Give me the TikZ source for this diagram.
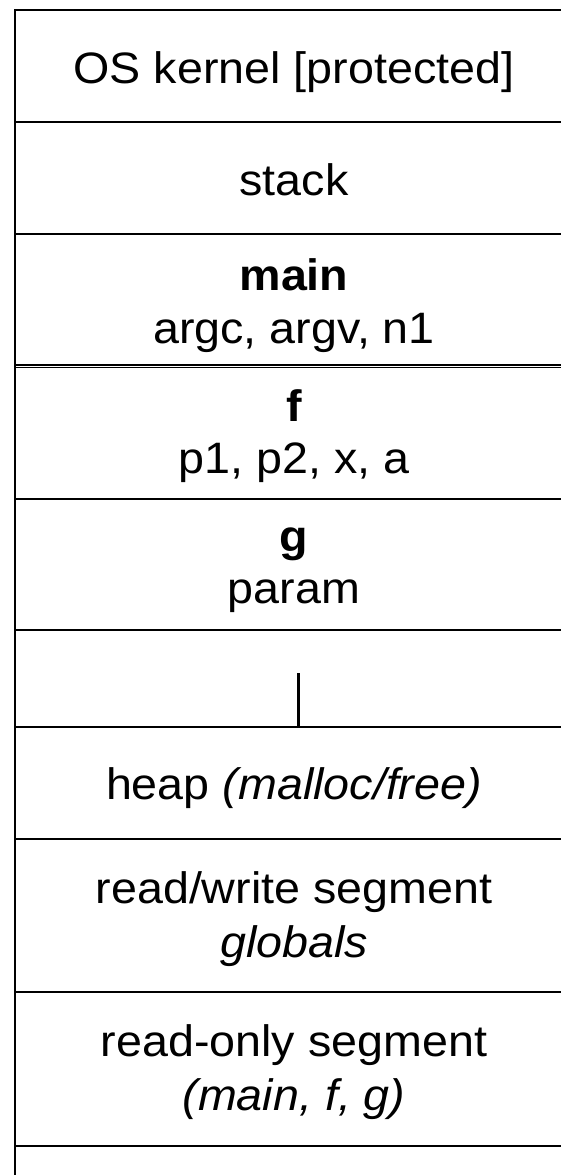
\documentclass[tikz,border=0pt]{standalone}
\usepackage{graphicx}
\usepackage{fontspec}
\setmainfont{Liberation Sans}
\newcommand\widetext[1]{\scalebox{1.06}[1]{#1}}
\begin{document}
\begin{tikzpicture}[x=1pt,y=-1pt,
  rule/.style={line width=1.9pt,black},
  lbl/.style={anchor=base,inner sep=0pt,font=\fontsize{44}{52}\selectfont},
  blbl/.style={lbl,font=\fontsize{44}{52}\selectfont\bfseries}]
\useasboundingbox[fill=white] (0,0) rectangle (561,1175);
% frame lines
\draw[rule] (15,10) -- (561,10);
\draw[rule] (15,9) -- (15,1175);
\foreach \yy in {122,234,499,630,727,839,992,1146}
  \draw[rule] (15,\yy) -- (561,\yy);
\draw[line width=1.4pt,black] (15,364.9) -- (561,364.9);
\draw[line width=1.4pt,black] (15,367.4) -- (561,367.4);
% labels
\def\cx{294}
\node[lbl]  (kernel) at (\cx,83)   {\widetext{OS kernel [protected]}};
\node[lbl]  (stack)  at (\cx,195)  {\widetext{stack}};
\node[blbl] (mainT)  at (\cx,290)  {\widetext{main}};
\node[lbl]  (mainV)  at (\cx,343)  {\widetext{argc, argv, n1}};
\node[blbl] (fT)     at (\cx,421)  {\widetext{f}};
\node[lbl]  (fV)     at (\cx,473)  {\widetext{p1, p2, x, a}};
\node[blbl] (gT)     at (\cx,551)  {\widetext{g}};
\node[lbl]  (gV)     at (\cx,603)  {\widetext{param}};
\node[lbl]  (heap)   at (\cx,799)  {\widetext{heap \textit{(malloc/free)}}};
\node[lbl]  (rwT)    at (\cx,903)  {\widetext{read/write segment}};
\node[lbl]  (rwV)    at (\cx,957)  {\widetext{\textit{globals}}};
\node[lbl]  (roT)    at (\cx,1056) {\widetext{read-only segment}};
\node[lbl]  (roV)    at (\cx,1110) {\widetext{\textit{(main, f, g)}}};
% growth tick
\coordinate (tickTop) at (298.5,673);
\coordinate (tickBot) at (298.5,727);
\draw[line width=3.8pt,black] (tickTop) -- (tickBot);
\end{tikzpicture}
\end{document}
